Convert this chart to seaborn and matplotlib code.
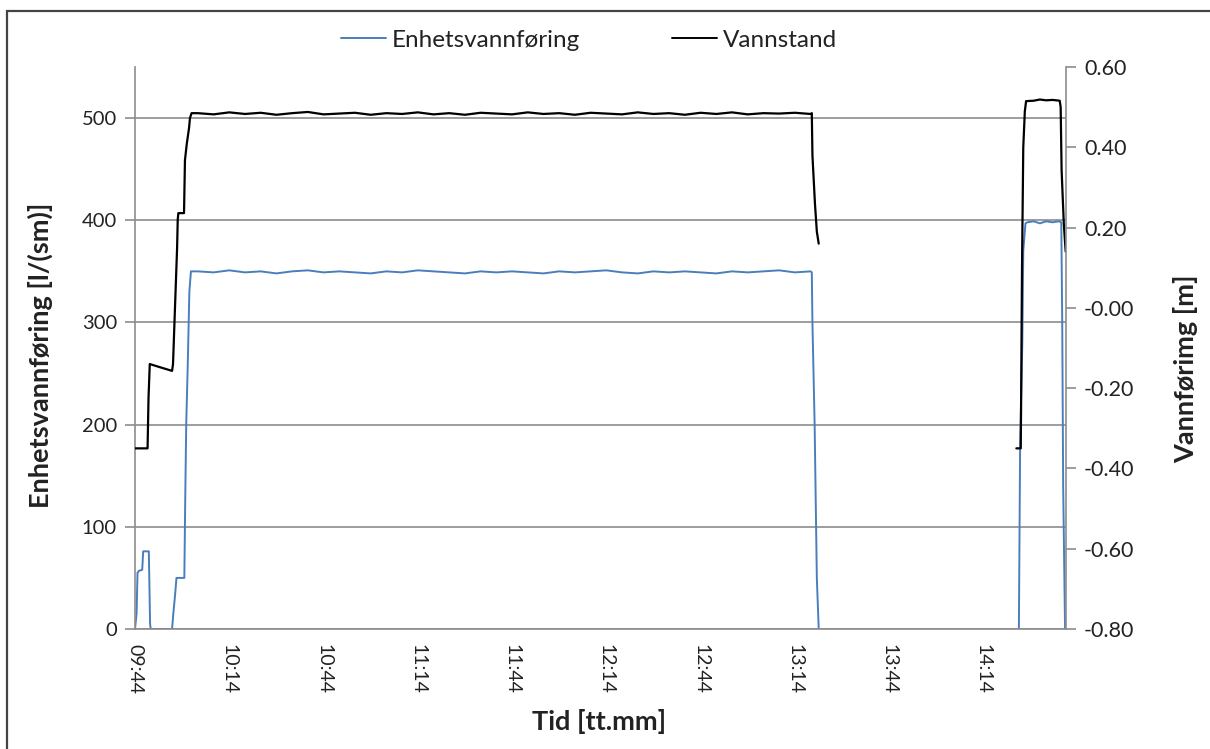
import numpy as np
import pandas as pd
import matplotlib
matplotlib.use("Agg")
import matplotlib.pyplot as plt
from matplotlib.lines import Line2D
from matplotlib.patches import Rectangle
import seaborn as sns

# ---- data (time in minutes after 09:44) ----
tick_minutes = [0, 30, 60, 90, 120, 150, 180, 210, 240, 270]
tick_labels = ["09:44", "10:14", "10:44", "11:14", "11:44",
               "12:14", "12:44", "13:14", "13:44", "14:14"]

plateau_t = np.arange(20, 216, 5)

# Enhetsvannføring [l/(sm)]
q_start_t = [0, 0.5, 0.8, 1.3, 2.3, 2.6, 4.4, 4.8, 5.0, 11.8, 12.2, 12.8, 13.2,
             15.7, 16.0, 16.3, 16.8, 17.3, 17.8]
q_start_v = [0, 15, 55, 57, 58, 76, 76, 5, 0, 0, 15, 35, 50,
             50, 130, 200, 260, 330, 350]
q_plateau = [350, 349, 351, 349, 350, 348, 350, 351, 349, 350,
             349, 348, 350, 349, 351, 350, 349, 348, 350, 349,
             350, 349, 348, 350, 349, 350, 351, 349, 348, 350,
             349, 350, 349, 348, 350, 349, 350, 351, 349, 350]
q_end_t = [215.4, 215.6, 216.3, 217.0, 217.6]
q_end_v = [349, 300, 200, 50, 0]
q_late_t = [281.3, 281.7, 282.4, 282.7, 283.4, 284, 286, 288, 290, 292, 294,
            294.8, 295.1, 295.4, 296.0]
q_late_v = [0, 180, 280, 370, 397, 398, 399, 397, 399, 398, 399,
            398, 300, 140, 0]

# Vannstand [m]
h_start_t = [0, 4.0, 4.3, 4.7, 8.0, 11.8, 12.1, 12.5, 13.4, 13.6, 13.8,
             15.6, 15.9, 16.5, 17.2, 17.5, 18.0]
h_start_v = [-0.35, -0.35, -0.225, -0.14, -0.148, -0.157, -0.14, -0.05, 0.15,
             0.22, 0.236, 0.236, 0.368, 0.41, 0.448, 0.473, 0.485]
h_plateau = [0.485, 0.482, 0.487, 0.483, 0.486, 0.481, 0.485, 0.488, 0.482, 0.484,
             0.486, 0.481, 0.485, 0.483, 0.487, 0.482, 0.485, 0.481, 0.486, 0.484,
             0.482, 0.487, 0.483, 0.485, 0.481, 0.486, 0.484, 0.482, 0.487, 0.483,
             0.485, 0.481, 0.486, 0.483, 0.487, 0.482, 0.485, 0.484, 0.486, 0.483]
h_end_t = [215.4, 215.6, 216.4, 217.0, 217.6]
h_end_v = [0.485, 0.38, 0.26, 0.19, 0.16]
h_late_t = [280.5, 281.9, 282.0, 282.3, 282.7, 283.2, 283.6, 286, 288, 290,
            292, 294.3, 294.6, 294.9, 295.6, 296.2]
h_late_v = [-0.35, -0.35, -0.25, 0.10, 0.40, 0.49, 0.515, 0.516, 0.519, 0.517,
            0.518, 0.516, 0.50, 0.343, 0.21, 0.14]


def frame(parts):
    rows = []
    for seg, (t, v) in enumerate(parts):
        rows.append(pd.DataFrame({"t": t, "v": v, "seg": seg}))
    return pd.concat(rows, ignore_index=True)


q_df = frame([(list(q_start_t) + list(plateau_t) + q_end_t,
               list(q_start_v) + q_plateau + q_end_v),
              (q_late_t, q_late_v)])
h_df = frame([(list(h_start_t) + list(plateau_t) + h_end_t,
               list(h_start_v) + h_plateau + h_end_v),
              (h_late_t, h_late_v)])

# ---- styling ----
sns.set_style("white")
plt.rcParams["font.family"] = ["Lato", "DejaVu Sans"]

BLUE = "#4A7EBB"
GRID = "#8C8C8C"
TEXT = "#222222"

fig = plt.figure(figsize=(12.1, 7.49), dpi=100)
ax = fig.add_axes([135 / 1210, 120 / 749, 931 / 1210, 562 / 749])
ax2 = ax.twinx()

sns.lineplot(data=q_df, x="t", y="v", units="seg", estimator=None,
             color=BLUE, linewidth=1.4, ax=ax, legend=False)
sns.lineplot(data=h_df, x="t", y="v", units="seg", estimator=None,
             color="black", linewidth=1.6, ax=ax2, legend=False)

ax.set_xlim(0, 296.3)
ax.set_ylim(0, 550)
ax.set_yticks([0, 100, 200, 300, 400, 500])
ax2.set_ylim(-0.8, 0.6)
ax2.set_yticks(np.round(np.arange(-0.8, 0.61, 0.2), 2))
ax2.set_yticklabels([f"{v:.2f}" for v in np.arange(-0.8, 0.61, 0.2)])

ax.set_xticks(tick_minutes)
ax.set_xticklabels(tick_labels, rotation=-90, va="top", ha="center")

ax.yaxis.grid(True, color=GRID, linewidth=1.2)
ax.xaxis.grid(False)
ax.set_axisbelow(True)

for a in (ax, ax2):
    a.set_xlabel("")
    a.set_ylabel("")
    a.spines["top"].set_visible(False)
    for side in ("left", "bottom", "right"):
        a.spines[side].set_color(GRID)
        a.spines[side].set_linewidth(1.2)
    a.tick_params(colors=TEXT, length=7, width=1.2,
                  color=GRID, direction="out")
ax.spines["right"].set_visible(False)
ax2.spines["left"].set_visible(False)
ax2.spines["bottom"].set_visible(False)
ax.tick_params(axis="x", pad=4, labelsize=14)
ax.tick_params(axis="y", pad=6, labelsize=14.5)
ax2.tick_params(axis="y", pad=6, labelsize=15.5)

# axis titles
fig.text(40 / 1210, 1 - 355 / 749, "Enhetsvannføring [l/(sm)]", rotation=90,
         ha="center", va="center", fontsize=19.5, fontweight="bold", color=TEXT)
fig.text(1186 / 1210, 1 - 369 / 749, "Vannførimg [m]", rotation=90,
         ha="center", va="center", fontsize=19.5, fontweight="bold", color=TEXT)
fig.text(599 / 1210, 1 - 722 / 749, "Tid [tt.mm]",
         ha="center", va="center", fontsize=19.5, fontweight="bold", color=TEXT)

# legend
handles = [Line2D([], [], color=BLUE, linewidth=1.4),
           Line2D([], [], color="black", linewidth=1.4)]
fig.legend(handles, ["Enhetsvannføring", "Vannstand"], loc="center",
           bbox_to_anchor=(589 / 1210, 1 - 40 / 749), ncol=2, frameon=False,
           fontsize=17.5, handlelength=1.85, handletextpad=0.25,
           columnspacing=3.8, labelcolor=TEXT)

# chart area frame
fig.add_artist(Rectangle((7 / 1210, -0.05), 1.2, 1.05 - 11 / 749,
                         transform=fig.transFigure, fill=False,
                         edgecolor="#444444", linewidth=1.6))

fig.savefig("out.png", dpi=100, facecolor="white")
